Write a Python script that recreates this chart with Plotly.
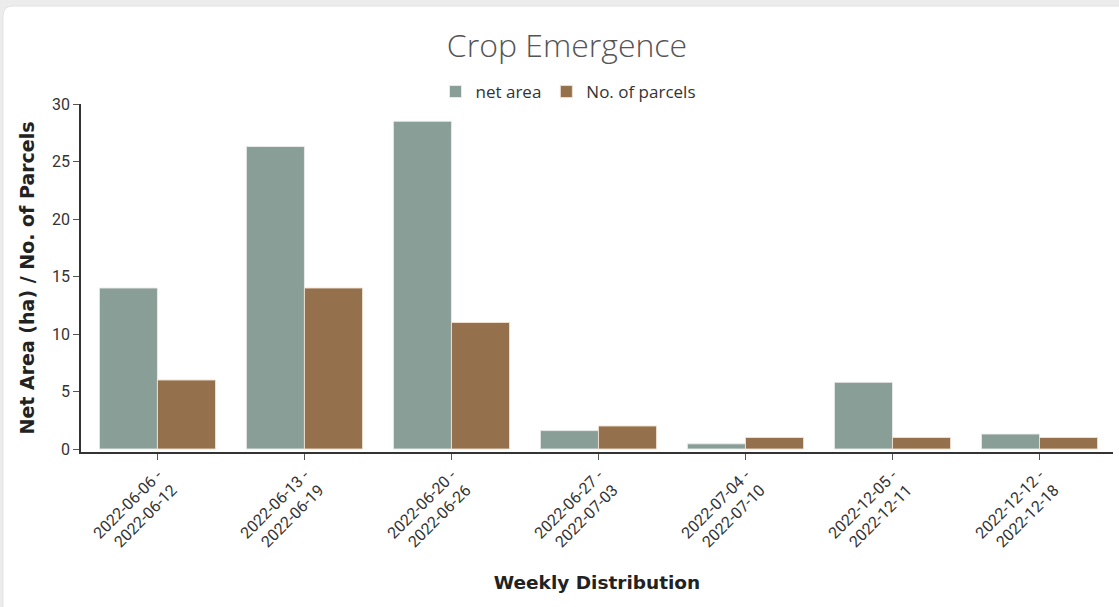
import plotly.graph_objects as go

weeks = ["2022-06-06 -<br>2022-06-12", "2022-06-13 -<br>2022-06-19", "2022-06-20 -<br>2022-06-26",
         "2022-06-27 -<br>2022-07-03", "2022-07-04 -<br>2022-07-10", "2022-12-05 -<br>2022-12-11",
         "2022-12-12 -<br>2022-12-18"]
net_area = [14.0, 26.3, 28.5, 1.6, 0.45, 5.8, 1.3]
parcels = [6, 14, 11, 2, 1, 1, 1]

W, H = 1119, 607
L, R, T, B = 81, 6, 104, 155
pw, ph = W - L - R, H - T - B

def px(x):
    return (x - L) / pw

def py(y):
    return (H - B - y) / ph

fig = go.Figure()
fig.add_bar(name="net area", x=weeks, y=net_area, marker=dict(color="#899e96", line=dict(color="rgba(235,235,235,0.9)", width=1)))
fig.add_bar(name="No. of parcels", x=weeks, y=parcels, marker=dict(color="#94704c", line=dict(color="rgba(240,225,210,0.9)", width=1)))

# card background
r = 10
x0, y0, x1, y1 = 3, 6, 1125, 615
path = (f"M {px(x0)},{py(y1)} L {px(x0)},{py(y0 + r)} "
        f"Q {px(x0)},{py(y0)} {px(x0 + r)},{py(y0)} "
        f"L {px(x1)},{py(y0)} L {px(x1)},{py(y1)} Z")
fig.add_shape(type="path", path=path, xref="paper", yref="paper", layer="below",
              fillcolor="white", line=dict(color="#e2e2e2", width=1))

fig.update_layout(
    width=W, height=H,
    margin=dict(l=L, r=R, t=T, b=B),
    paper_bgcolor="#ececec", plot_bgcolor="rgba(0,0,0,0)",
    barmode="group", bargap=0.21, bargroupgap=0,
    title=dict(text="Crop Emergence", x=567 / W, xanchor="center", y=1 - 46 / H, yanchor="middle",
               font=dict(family="Open Sans", size=32, color="#555555", weight=300)),
    legend=dict(orientation="h", x=px(568), xanchor="center", y=py(92), yanchor="middle",
                font=dict(family="Open Sans", size=17, color="#333333"), bgcolor="rgba(0,0,0,0)",
                itemwidth=30),
    showlegend=True,
    font=dict(family="Roboto", color="#333333"),
)
fig.update_xaxes(
    range=[-0.52, 6.5], showgrid=False, showline=True, linecolor="#333333", linewidth=1.5,
    ticks="outside", ticklen=6, tickcolor="#555555", tickangle=-45,
    tickfont=dict(family="Roboto", size=16, color="#333333"),
    title=dict(text="Weekly Distribution", standoff=20,
               font=dict(family="DejaVu Sans", size=18.5, color="#222222", weight="bold")),
)
fig.update_yaxes(
    range=[-0.26, 30], dtick=5, showgrid=False, zeroline=False, showline=True, linecolor="#333333", linewidth=1.5,
    ticks="outside", ticklen=6, tickcolor="#555555",
    tickfont=dict(family="Roboto", size=16, color="#333333"),
    title=dict(text="Net Area (ha) / No. of Parcels", standoff=12,
               font=dict(family="DejaVu Sans", size=19, color="#222222", weight="bold")),
)

fig.write_html("out.html", config={"displayModeBar": False},
               post_script="document.body.style.margin='0';document.body.style.background='#ececec';")
